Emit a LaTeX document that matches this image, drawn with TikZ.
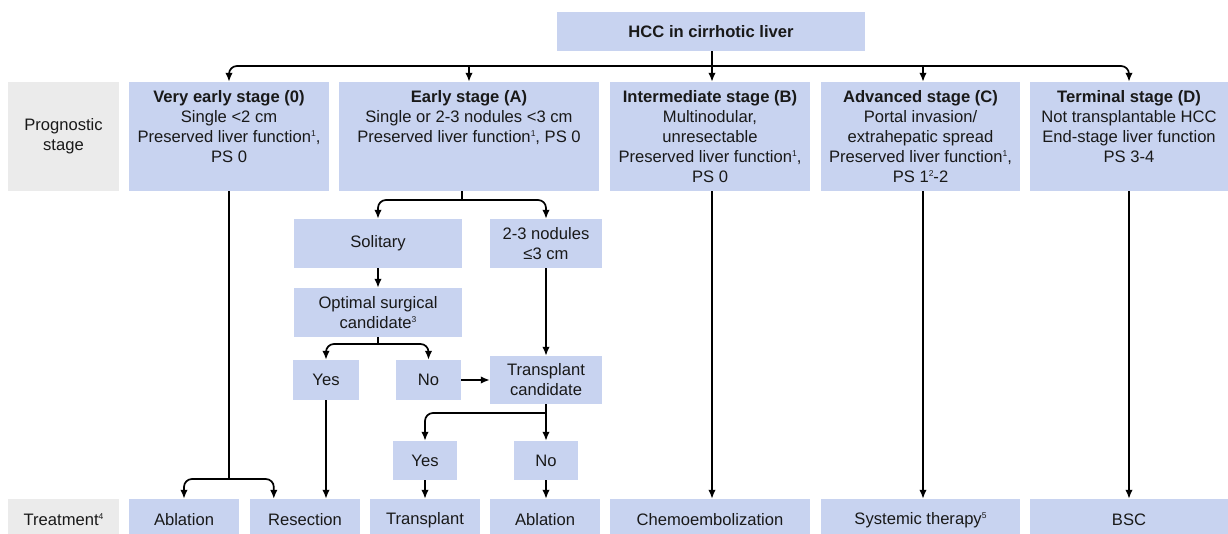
\documentclass[tikz,border=0pt]{standalone}
\usepackage{fontspec}
\setmainfont{Liberation Sans}
\usetikzlibrary{arrows.meta,calc}
\definecolor{bx}{RGB}{200,211,240}
\definecolor{gy}{RGB}{235,235,235}
\definecolor{tx}{RGB}{25,25,25}
\newcommand\sups[1]{\raisebox{6pt}{\fontsize{8.5}{9}\selectfont #1}}
\newcommand\mkbox[7]{\node[#6, minimum width={(#4-#2)*1pt}, minimum height={(#5-#3)*1pt}] (#1) at ({(#2+#4)/2},{(#3+#5)/2}) {#7};}
\begin{document}
\begin{tikzpicture}[x=1pt,y=-1pt, font=\fontsize{16.6}{20}\selectfont, text=tx,
  bbox/.style={fill=bx, draw=none, inner sep=0pt, align=center},
  gbox/.style={fill=gy, draw=none, inner sep=0pt, align=center},
  stxt/.style={anchor=north, align=center, inner sep=0pt},
  ln/.style={line width=1.7pt},
  arr/.style={line width=1.7pt, -{Latex[length=9pt,width=7.5pt]}},
  rc/.style={rounded corners=8pt}]
\clip (0,0) rectangle (1228,534);
\useasboundingbox (0,0) rectangle (1228,534);
% top
\mkbox{hcc}{557}{12}{865}{51}{bbox}{\textbf{HCC in cirrhotic liver}}
\mkbox{pg}{8}{82}{119}{191}{gbox}{Prognostic\\stage}
\mkbox{ve}{129}{82}{329}{191}{bbox}{}
\mkbox{ea}{339}{82}{599}{191}{bbox}{}
\mkbox{im}{610}{82}{810}{191}{bbox}{}
\mkbox{ad}{821}{82}{1020}{191}{bbox}{}
\mkbox{te}{1030}{82}{1228}{191}{bbox}{}
\node[stxt] (veT) at ([yshift=-8.4pt]ve.north) {\textbf{Very early stage (0)}\\Single <2 cm\\Preserved liver function\sups{1},\\PS 0};
\node[stxt] (eaT) at ([yshift=-8.4pt]ea.north) {\textbf{Early stage (A)}\\Single or 2-3 nodules <3 cm\\Preserved liver function\sups{1}, PS 0};
\node[stxt] (imT) at ([yshift=-8.4pt]im.north) {\textbf{Intermediate stage (B)}\\Multinodular,\\unresectable\\Preserved liver function\sups{1},\\PS 0};
\node[stxt] (adT) at ([yshift=-8.4pt]ad.north) {\textbf{Advanced stage (C)}\\Portal invasion/\\extrahepatic spread\\Preserved liver function\sups{1},\\PS 1\sups{2}-2};
\node[stxt] (teT) at ([yshift=-8.4pt]te.north) {\textbf{Terminal stage (D)}\\Not transplantable HCC\\End-stage liver function\\PS 3-4};
% middle
\mkbox{sol}{294}{219}{462}{268}{bbox}{Solitary}
\mkbox{nod}{490}{219}{602}{268}{bbox}{2-3 nodules\\≤3 cm}
\mkbox{opt}{294}{288}{462}{337}{bbox}{Optimal surgical\\candidate\sups{3}}
\mkbox{yes1}{293}{360}{359}{400}{bbox}{Yes}
\mkbox{no1}{396}{360}{461}{400}{bbox}{No}
\mkbox{tc}{490}{356}{602}{404}{bbox}{Transplant\\candidate}
\mkbox{yes2}{393}{441}{457}{480}{bbox}{Yes}
\mkbox{no2}{514}{441}{578}{480}{bbox}{No}
% bottom
\mkbox{tr}{8}{499}{119}{541}{gbox}{Treatment\sups{4}}
\mkbox{abl1}{129}{499}{239}{541}{bbox}{Ablation}
\mkbox{res}{250}{499}{360}{541}{bbox}{Resection}
\mkbox{tra}{370}{499}{480}{541}{bbox}{Transplant}
\mkbox{abl2}{490}{499}{600}{541}{bbox}{Ablation}
\mkbox{che}{610}{499}{810}{541}{bbox}{Chemoembolization}
\mkbox{sys}{821}{499}{1020}{541}{bbox}{Systemic therapy\sups{5}}
\mkbox{bsc}{1030}{499}{1228}{541}{bbox}{BSC}
% connectors
\coordinate (j0) at (712,66);
\coordinate (ja) at (923,66);
\draw[ln] (hcc.south -| j0) -- (j0);
\draw[arr,rc] (j0) -| (ve.north);
\draw[arr,rc] (j0) -| (te.north);
\draw[arr] (j0) -- (j0 |- im.north);
\draw[arr] (ea.north |- j0) -- (ea.north);
\draw[arr] (ja) -- (ja |- ad.north);
\coordinate (j1) at (462,200);
\draw[ln] (j1 |- ea.south) -- (j1);
\draw[arr,rc] (j1) -| (sol.north);
\draw[arr,rc] (j1) -| (nod.north);
\draw[arr] (sol.south) -- (opt.north);
\coordinate (j2) at (378,344);
\draw[ln] (opt.south) -- (j2);
\draw[arr,rc] (j2) -| (yes1.north);
\draw[arr,rc] (j2) -| (no1.north);
\draw[arr] (no1.east) -- (no1.east -| tc.west);
\draw[arr] (nod.south) -- (tc.north);
\coordinate (j3) at (546,413);
\draw[arr] (tc.south) -- (tc.south |- no2.north);
\draw[arr,rc] (j3) -| (yes2.north);
\draw[arr] (yes2.south) -- (yes2.south |- tra.north);
\draw[arr] (no2.south) -- (no2.south |- abl2.north);
\draw[arr] (yes1.south) -- (yes1.south |- res.north);
\coordinate (j4) at (229,479);
\draw[ln] (ve.south) -- (j4);
\draw[arr,rc] (j4) -| (abl1.north);
\draw[arr,rc] (j4) -| ([xshift=24pt]res.north west);
\draw[arr] (im.south -| j0) -- (j0 |- che.north);
\draw[arr] (ja |- ad.south) -- (ja |- sys.north);
\draw[arr] (te.south) -- (bsc.north);
\end{tikzpicture}
\end{document}
